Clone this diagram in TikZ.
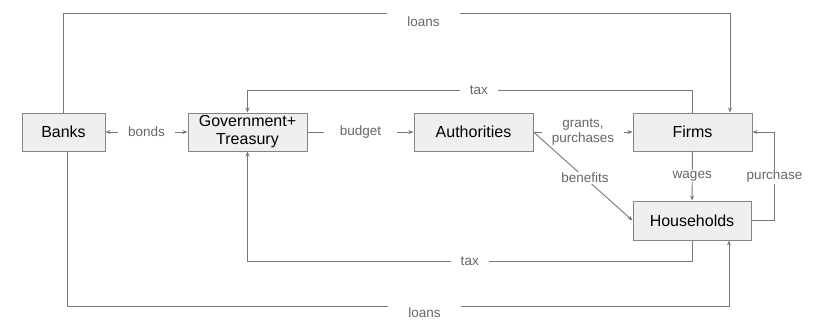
\documentclass[tikz,border=0pt]{standalone}
\usepackage{fontspec}
\setmainfont{Liberation Sans}
\usetikzlibrary{arrows.meta}
\definecolor{boxfill}{HTML}{EFEFEF}
\definecolor{boxline}{HTML}{858585}
\definecolor{flowline}{HTML}{777777}
\definecolor{labeltext}{HTML}{666666}
\begin{document}
\begin{tikzpicture}[x=1pt, y=1pt,
    >={Stealth[length=5pt, width=4pt]},
    sector/.style={draw=boxline, fill=boxfill, line width=1pt, minimum height=38pt,
        inner sep=2pt, align=center, font=\fontsize{16}{18}\selectfont},
    flow/.style={->, draw=flowline, line width=0.9pt},
    flowlabel/.style={fill=white, text=labeltext, inner xsep=10pt, inner ysep=1pt,
        align=center, font=\fontsize{13.5}{14.5}\selectfont},
    loanlabel/.style={flowlabel, anchor=north, inner xsep=20pt, inner ysep=5pt},
]
    \useasboundingbox (0,0) rectangle (820,-327);

    \node[sector, minimum width=83pt]  (banks) at (63.5,-132)  {Banks};
    \node[sector, minimum width=119pt, inner ysep=0pt] (gov) at (247.5,-132) {Government+\\Treasury};
    \node[sector, minimum width=119pt] (auth)  at (473.5,-132) {Authorities};
    \node[sector, minimum width=119pt] (firms) at (692.5,-132) {Firms};
    \node[sector, minimum width=118pt, minimum height=39pt] (house) at (692,-220.5) {Households};

    \draw[flow, <->] (banks) -- node[flowlabel]{bonds} (gov);
    \draw[flow] (gov) -- node[flowlabel, inner xsep=16pt]{budget} (auth);
    \draw[flow] (auth) -- node[flowlabel]{grants,\\purchases} (firms);
    \draw[flow] (auth.east) -- node[flowlabel, pos=0.52]{benefits} (house.west);
    \draw[flow] (firms) -- node[flowlabel]{wages} (house);
    \draw[flow] (house.east) -- ++(23,0) |- node[flowlabel, pos=0.25]{purchase} (firms.east);

    \draw[flow] (banks.north) -- ++(0,99) -| node[loanlabel, pos=0.27, yshift=2pt]{loans} ([xshift=37.5pt]firms.north);
    \draw[flow] (firms.north) -- ++(0,22) -| node[flowlabel, pos=0.24]{tax} (gov.north);
    \draw[flow] (house.south) -- ++(0,-21) -| node[flowlabel, pos=0.25]{tax} (gov.south);
    \draw[flow] ([xshift=3.5pt]banks.south) -- ++(0,-155) -| node[loanlabel, pos=0.27, yshift=4pt]{loans} ([xshift=37pt]house.south);
\end{tikzpicture}
\end{document}
